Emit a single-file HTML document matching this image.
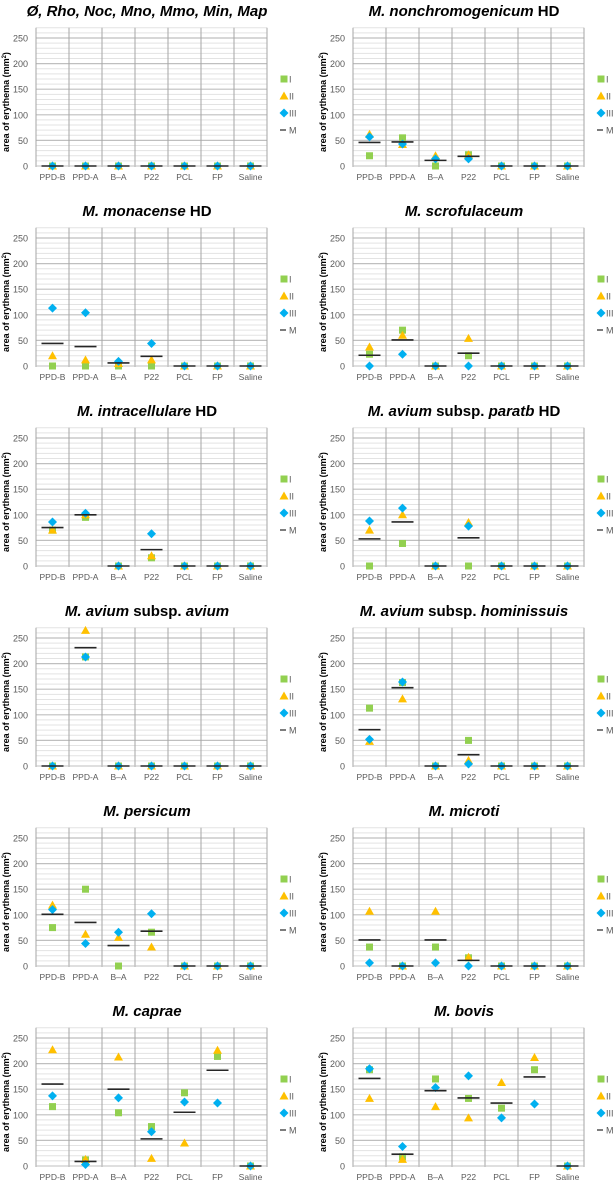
<!DOCTYPE html>
<html><head><meta charset="utf-8"><style>
body{margin:0;background:#fff}
svg{display:block;font-family:"Liberation Sans",Arial,sans-serif}
</style></head><body>
<svg id="fig" width="613" height="1181" viewBox="0 0 613 1181"></svg>
<script>
const categories=["PPD-B","PPD-A","B\u2013A","P22","PCL","FP","Saline"];
const yTicks=[0,50,100,150,200,250];
const titles=[
 [["\u00d8, Rho, Noc, Mno, Mmo, Min, Map",1]],
 [["M. nonchromogenicum",1],[" HD",0]],
 [["M. monacense",1],[" HD",0]],
 [["M. scrofulaceum",1]],
 [["M. intracellulare",1],[" HD",0]],
 [["M. avium",1],[" subsp. ",0],["paratb",1],[" HD",0]],
 [["M. avium",1],[" subsp. ",0],["avium",1]],
 [["M. avium",1],[" subsp. ",0],["hominissuis",1]],
 [["M. persicum",1]],
 [["M. microti",1]],
 [["M. caprae",1]],
 [["M. bovis",1]]
];
const seriesI=[
 [0,0,0,0,0,0,0],[20,55,0,22,0,0,0],[0,0,0,0,0,0,0],[23,70,0,20,0,0,0],
 [70,95,0,16,0,0,0],[0,44,0,0,0,0,0],[0,213,0,0,0,0,0],[113,163,0,50,0,0,0],
 [75,150,0,66,0,0,0],[37,0,37,16,0,0,0],[116,12,104,77,143,214,0],[188,18,170,132,113,188,0]];
const seriesII=[
 [0,0,0,0,0,0,0],[62,42,20,22,0,0,0],[20,12,5,12,0,0,0],[37,60,0,54,0,0,0],
 [70,100,0,20,0,0,0],[70,100,0,85,0,0,0],[0,265,0,0,0,0,0],[48,131,0,11,0,0,0],
 [119,62,56,37,0,0,0],[107,0,107,17,0,0,0],[227,13,213,15,45,226,0],[132,13,116,94,163,212,0]];
const seriesIII=[
 [0,0,0,0,0,0,0],[57,43,14,14,0,0,0],[113,104,9,44,0,0,0],[0,23,0,0,0,0,0],
 [86,103,0,63,0,0,0],[88,113,0,78,0,0,0],[0,213,0,0,0,0,0],[52,164,0,4,0,0,0],
 [110,44,66,102,0,0,0],[6,0,6,0,0,0,0],[137,3,133,67,125,123,0],[190,38,153,176,94,121,0]];
const seriesM=[
 [0,0,0,0,0,0,0],[46,47,11,19,0,0,0],[44,38,6,19,0,0,0],[21,51,0,25,0,0,0],
 [75,100,0,32,0,0,0],[53,86,0,55,0,0,0],[0,231,0,0,0,0,0],[71,153,0,22,0,0,0],
 [101,85,40,68,0,0,0],[51,0,51,11,0,0,0],[160,9,150,53,105,187,0],[171,23,147,133,123,174,0]];

const NS="http://www.w3.org/2000/svg";
const svg=document.getElementById('fig');
function mk(tag,attrs,parent,text){const e=document.createElementNS(NS,tag);for(const k in attrs)e.setAttribute(k,attrs[k]);if(text!==undefined)e.textContent=text;parent.appendChild(e);return e;}
const PW=231,YMAX=270,SC=0.512;
function square(g,x,y){return mk('rect',{x:x-3.5,y:y-3.5,width:7,height:7,fill:'#92d050'},g);}
function tri(g,x,y){return mk('polygon',{points:`${x},${y-4.5} ${x+4.5},${y+3.5} ${x-4.5},${y+3.5}`,fill:'#ffc000'},g);}
function diam(g,x,y){return mk('path',{d:`M${x},${y-4.5}L${x+4.5},${y}L${x},${y+4.5}L${x-4.5},${y}z`,fill:'#00b0f0'},g);}
for(let i=0;i<12;i++){
 const ox=(i%2)*317, oy=Math.floor(i/2)*200;
 const x0=36+ox, y0=166+oy;
 const xs=k=>x0+(k+0.5)*PW/7;
 const ys=v=>y0-v*SC;
 const g=mk('g',{},svg);
 
 
 const t=mk('text',{x:147+ox,y:16+oy,'text-anchor':'middle','font-size':'15','font-weight':'bold',fill:'#000'},g);
 
 
 titles[i].forEach(s=>{mk('tspan',{'font-style':s[1]?'italic':'normal'},t,s[0]);});
 for(let v=10;v<=YMAX;v+=10){
  const major=v%50===0;
  mk('line',{x1:x0,x2:x0+PW,y1:ys(v),y2:ys(v),stroke:major?'#bfbfbf':'#e3e3e3','stroke-width':major?1.2:1},g);
 }
 for(let k=0;k<=7;k++){
  const x=x0+k*PW/7;
  mk('line',{x1:x,x2:x,y1:ys(YMAX),y2:y0+1,stroke:'#a6a6a6','stroke-width':1},g);
 }
 mk('line',{x1:x0,x2:x0+PW,y1:y0,y2:y0,stroke:'#bfbfbf'},g);
 yTicks.forEach(v=>{
  const tl=mk('text',{x:x0-8,y:ys(v)+3.5,'text-anchor':'end','font-size':'9','fill':'#595959'},g,String(v));
  
  
 });
 categories.forEach((c,k)=>{
  const cl=mk('text',{x:xs(k),y:y0+14,'text-anchor':'middle','font-size':'8.5',fill:'#595959'},g,c);
  
  
 });
 const yl=mk('text',{transform:`translate(${9+ox},${y0-64}) rotate(-90)`,'text-anchor':'middle','font-size':'9','font-weight':'bold',fill:'#000'},g);
 
 
 mk('tspan',{},yl,'area of erythema (mm');
 mk('tspan',{'font-size':'6','dy':'-3'},yl,'2');
 mk('tspan',{'dy':'3'},yl,')');
 categories.forEach((c,k)=>{
  const a=square(g,xs(k),ys(seriesI[i][k]));
  
  
  const b=tri(g,xs(k),ys(seriesII[i][k]));
  
  
  const d=diam(g,xs(k),ys(seriesIII[i][k]));
  
  
  const m=mk('line',{x1:xs(k)-11,x2:xs(k)+11,y1:ys(seriesM[i][k]),y2:ys(seriesM[i][k]),stroke:'#262626','stroke-width':1.6},g);
  
  
 });
 const lx=284+ox, ly=79+oy;
 const lg=mk('g',{},g);
 
 
 square(lg,lx,ly); mk('text',{x:lx+5,y:ly+3.5,'font-size':'9',fill:'#595959'},lg,'I');
 tri(lg,lx,ly+17); mk('text',{x:lx+5,y:ly+20.5,'font-size':'9',fill:'#595959'},lg,'II');
 diam(lg,lx,ly+34); mk('text',{x:lx+5,y:ly+37.5,'font-size':'9',fill:'#595959'},lg,'III');
 mk('line',{x1:lx-4,x2:lx+2,y1:ly+51,y2:ly+51,stroke:'#262626','stroke-width':1.2},lg);
 mk('text',{x:lx+5,y:ly+54.5,'font-size':'9',fill:'#595959'},lg,'M');
}
</script>
</body></html>
